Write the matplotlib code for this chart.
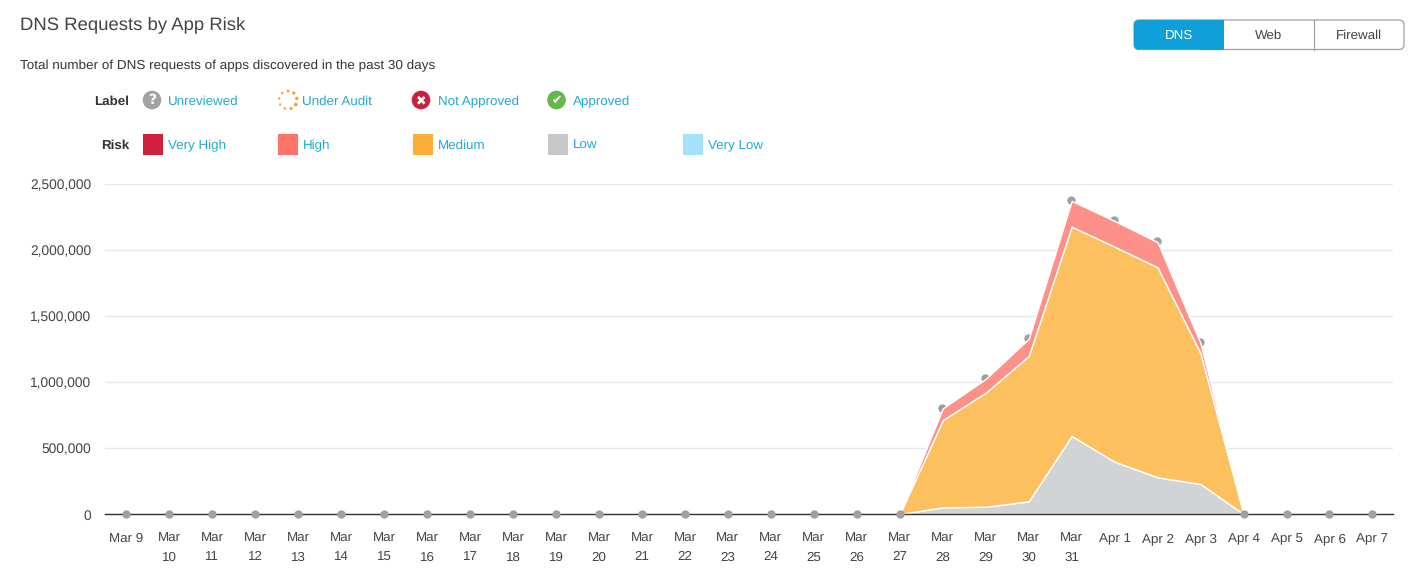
#!/usr/bin/env python3
"""DNS Requests by App Risk - stacked area chart with legend rows and tab buttons."""

import numpy as np
import matplotlib
matplotlib.use("Agg")
import matplotlib.pyplot as plt
from matplotlib.patches import Circle, FancyBboxPatch, Rectangle
from matplotlib.transforms import ScaledTranslation

# Data
DATES = ["Mar 9", "Mar\n10", "Mar\n11", "Mar\n12", "Mar\n13", "Mar\n14", "Mar\n15", "Mar\n16",
         "Mar\n17", "Mar\n18", "Mar\n19", "Mar\n20", "Mar\n21", "Mar\n22", "Mar\n23", "Mar\n24",
         "Mar\n25", "Mar\n26", "Mar\n27", "Mar\n28", "Mar\n29", "Mar\n30", "Mar\n31",
         "Apr 1", "Apr 2", "Apr 3", "Apr 4", "Apr 5", "Apr 6", "Apr 7"]
LOW = [0] * 19 + [50000, 55000, 96000, 591000, 396000, 278000, 227000] + [0] * 4
MEDIUM = [0] * 19 + [662000, 864000, 1101000, 1586000, 1629000, 1591000, 990000] + [0] * 4
HIGH = [0] * 19 + [88000, 105000, 130000, 195000, 195000, 190000, 75000] + [0] * 4
TOTAL = [0] * 19 + [803000, 1028000, 1336000, 2379000, 2227000, 2066000, 1305000] + [0] * 4
Y_TICKS = [0, 500000, 1000000, 1500000, 2000000, 2500000]
LABEL_ITEMS = ["Unreviewed", "Under Audit", "Not Approved", "Approved"]
RISK_ITEMS = ["Very High", "High", "Medium", "Low", "Very Low"]
RISK_COLORS = ["#cf1f3c", "#ff736b", "#fdae38", "#c6c7c8", "#a6e1fb"]
TABS = ["DNS", "Web", "Firewall"]

# Configuration
WIDTH, HEIGHT = 1417, 587
DARK = "#444444"
LINK = "#21a9d1"
GRID = "#e8e8e8"
DOT = "#a0a0a0"

plt.rcParams["font.family"] = ["Liberation Sans", "DejaVu Sans"]
plt.rcParams["text.hinting"] = "no_hinting"

fig = plt.figure(figsize=(WIDTH / 100, HEIGHT / 100), dpi=100)

# Main chart
ax = fig.add_axes([105 / WIDTH, 1 - 514 / HEIGHT, 1288 / WIDTH, 330 / HEIGHT])
x = np.arange(len(DATES))
total = np.array(TOTAL)

# Only the filled days get an area, otherwise the white edge hides the baseline
span = np.flatnonzero(total)
first, last = span[0] - 1, span[-1] + 2
ax.stackplot(x[first:last], LOW[first:last], MEDIUM[first:last], HIGH[first:last],
             colors=["#d1d3d4", "#fcc05f", "#fd918a"],
             edgecolor="white", linewidth=1.0, zorder=3)
ax.plot(x[total > 0] - 0.015, total[total > 0], linestyle="none", marker="o", markersize=6,
        color=DOT, markeredgewidth=0, zorder=2, clip_on=False)
ax.plot(x[total == 0], total[total == 0], linestyle="none", marker="o", markersize=6,
        color=DOT, markeredgewidth=0, zorder=5, clip_on=False)
ax.set_xlim(-0.496, 29.478)
ax.set_ylim(0, 2500000)
ax.set_xticks(x)
ax.set_xticklabels(DATES, linespacing=1.65)
ax.set_yticks(Y_TICKS)
ax.set_yticklabels([f"{v:,}" for v in Y_TICKS])
ax.tick_params(axis="x", length=0, labelsize=9.6, labelcolor=DARK, pad=13.5)
ax.tick_params(axis="y", length=0, labelsize=9.9, labelcolor=DARK, pad=10)

# Nudge the y labels down a little, the reference sits lower than the default
nudge = ScaledTranslation(0, -2 / 100, fig.dpi_scale_trans)
for label in ax.get_yticklabels():
    label.set_verticalalignment("center")
    label.set_transform(label.get_transform() + nudge)

ax.grid(axis="y", color=GRID, linewidth=1)
ax.set_axisbelow(True)
for side in ["top", "right", "left"]:
    ax.spines[side].set_visible(False)
ax.spines["bottom"].set_color("#333333")
ax.spines["bottom"].set_linewidth(1)
ax.spines["bottom"].set_zorder(4)

# Overlay in pixel coordinates for the header, legends and buttons
ui = fig.add_axes([0, 0, 1, 1], zorder=5)
ui.set_xlim(0, WIDTH)
ui.set_ylim(HEIGHT, 0)
ui.axis("off")

ui.text(20, 25, "DNS Requests by App Risk", fontsize=13.3, color=DARK, va="center")
ui.text(20, 66, "Total number of DNS requests of apps discovered in the past 30 days",
        fontsize=9.7, color="#333333", va="center")


def legend_text(px, py, text):
    ui.text(px, py + 1.5, text, fontsize=9.6, color=LINK, va="center")


def row_title(py, text):
    ui.text(129, py + 1.5, text, fontsize=9.6, color="#333333", va="center", ha="right", fontweight="bold")


def badge(px, py, color, glyph, size=10):
    ui.add_patch(Circle((px, py), 9.3, color=color, linewidth=0))
    ui.text(px, py + 0.5, glyph, fontsize=size, color="white", ha="center", va="center", fontweight="bold",
            family=["DejaVu Sans"])


# Label row
row_title(100, "Label")
badge(152, 100, "#a2a2a2", "?")
legend_text(167.5, 100, LABEL_ITEMS[0])
for angle, size in zip(np.linspace(0, 2 * np.pi, 9, endpoint=False), [1.5, 1.7, 1.8, 1.9, 1.6, 1.3, 1.2, 1.2, 1.3]):
    ui.add_patch(Circle((288 + 9 * np.sin(angle), 100 - 9 * np.cos(angle)), size, color="#f5a93b", linewidth=0))
legend_text(302.5, 100, LABEL_ITEMS[1])
badge(421, 100, "#c9203d", "\u2716", 9)
legend_text(437.5, 100, LABEL_ITEMS[2])
badge(556.5, 100, "#66b84a", "\u2714", 9)
legend_text(572.5, 100, LABEL_ITEMS[3])

# Risk row
row_title(144, "Risk")
for i, (name, color) in enumerate(zip(RISK_ITEMS, RISK_COLORS)):
    left = 143 + i * 135
    ui.add_patch(Rectangle((left, 134), 20, 21, color=color, linewidth=0))
    legend_text(left + 24.5, 144, name)

# Tab buttons
ui.add_patch(FancyBboxPatch((1134, 20), 270, 29.5, boxstyle="round,pad=0,rounding_size=5",
                            facecolor="white", edgecolor="#a0a0a0", linewidth=0.9))
ui.add_patch(FancyBboxPatch((1134, 20), 90, 29.5, boxstyle="round,pad=0,rounding_size=5",
                            facecolor="#0f9fd8", edgecolor="none"))
ui.add_patch(Rectangle((1200, 20), 24, 29.5, facecolor="#0f9fd8", edgecolor="none"))
ui.plot([1314, 1314], [20, 49.5], color="#a0a0a0", linewidth=0.9)
for i, tab in enumerate(TABS):
    ui.text(1179 + i * 90, 35.5, tab, fontsize=9.6, ha="center", va="center",
            color="white" if i == 0 else DARK)

fig.savefig("out.png", dpi=100)
